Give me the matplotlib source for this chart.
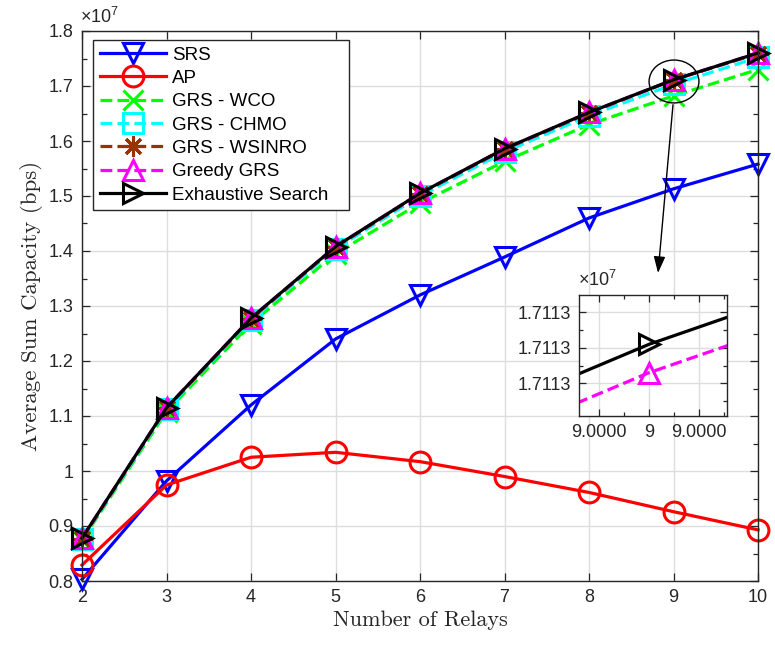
import matplotlib
matplotlib.use("Agg")
import matplotlib.pyplot as plt
from matplotlib.patches import Ellipse
from matplotlib.ticker import FixedLocator, FuncFormatter, MultipleLocator

# Sum capacity (units of 1e7 bps) versus number of relays
relays = [2, 3, 4, 5, 6, 7, 8, 9, 10]
srs = [0.803, 0.982, 1.120, 1.240, 1.320, 1.389, 1.460, 1.513, 1.558]
ap = [0.829, 0.9745, 1.025, 1.034, 1.017, 0.990, 0.961, 0.926, 0.893]
grs_wco = [0.874, 1.108, 1.268, 1.395, 1.487, 1.563, 1.630, 1.682, 1.730]
grs_chmo = [0.876, 1.112, 1.275, 1.404, 1.500, 1.580, 1.646, 1.703, 1.752]
grs_wsinro = [0.877, 1.114, 1.277, 1.407, 1.504, 1.585, 1.651, 1.7110, 1.759]
greedy_grs = [0.878, 1.115, 1.278, 1.408, 1.505, 1.586, 1.652, 1.7112993, 1.760]
exhaustive = [0.878, 1.115, 1.278, 1.408, 1.505, 1.586, 1.652, 1.7113001, 1.760]

labels = ["SRS", "AP", "GRS - WCO", "GRS - CHMO", "GRS - WSINRO",
          "Greedy GRS", "Exhaustive Search"]
colors = ["#0000ff", "#ff0000", "#00ff00", "#00ffff", "#993300",
          "#ff00ff", "#000000"]
markers = ["v", "o", "x", "s", (8, 2, 0), "^", ">"]
styles = ["-", "-", "--", "--", "--", "--", "-"]
series = [srs, ap, grs_wco, grs_chmo, grs_wsinro, greedy_grs, exhaustive]

plt.rcParams["font.family"] = ["Liberation Sans", "DejaVu Sans"]
plt.rcParams["mathtext.fontset"] = "custom"
plt.rcParams["mathtext.rm"] = "Liberation Sans"

W, H = 775, 649
fig = plt.figure(figsize=(W / 100, H / 100), dpi=100)
ax = fig.add_axes([82 / W, 68 / H, 676 / W, 550 / H])

LW = 2.3
MS = 15
MEW = 2.2
TICK_FS = 13
for ys, lab, c, m, ls in zip(series, labels, colors, markers, styles):
    ax.plot(relays, ys, linestyle=ls, color=c, lw=LW, marker=m,
            markersize=MS, markerfacecolor="none", markeredgecolor=c,
            markeredgewidth=MEW, label=lab, clip_on=False)

ax.set_xlim(2, 10)
ax.set_ylim(0.8, 1.8)
ax.xaxis.set_major_locator(MultipleLocator(1))
ax.yaxis.set_major_locator(MultipleLocator(0.1))
ax.yaxis.set_minor_locator(MultipleLocator(0.05))
ax.yaxis.set_major_formatter(FuncFormatter(lambda v, p: f"{v:g}"))
ax.tick_params(which="both", direction="in", top=True, right=True,
               labelsize=TICK_FS, colors="#262626", pad=6)
ax.tick_params(which="major", length=6, width=0.9)
ax.tick_params(which="minor", length=3.5, width=0.9)
ax.grid(True, which="major", color="#dddddd", lw=1.0)
ax.set_axisbelow(True)
for s in ax.spines.values():
    s.set_color("#262626")
    s.set_linewidth(1.0)

ax.set_xlabel("Number of Relays", family="cmr10", fontsize=16,
              color="#262626", labelpad=3)
ax.set_ylabel("Average Sum Capacity (bps)", family="cmr10", fontsize=16.5,
              color="#262626", labelpad=4)
fig.text(80 / W, 1 - 17 / H, r"$\times\mathregular{10^{7}}$",
         fontsize=TICK_FS, color="#262626", va="center", ha="left")

leg = ax.legend(loc="upper left",
                bbox_to_anchor=(11 / 676, 1 - 9 / 550, 256 / 676, 0.0),
                mode="expand", fontsize=13.5, handlelength=3.55,
                handletextpad=0.3, labelspacing=0.33, borderpad=0.35,
                borderaxespad=0, fancybox=False, framealpha=1,
                edgecolor="#262626")
leg.get_frame().set_linewidth(1.0)

# highlight of the zoomed point and pointer to the inset
ax.add_patch(Ellipse((9.006, 1.7082), 0.59, 0.078, fill=False,
                     edgecolor="k", lw=1.0, zorder=5))
ax.annotate("", xy=(8.817, 1.36), xytext=(8.994, 1.666),
            arrowprops=dict(arrowstyle="-|>,head_length=1.0,head_width=0.35",
                            color="k", lw=1.0, shrinkA=0, shrinkB=0),
            zorder=5)

# inset: close-up around 9 relays
axi = fig.add_axes([579 / W, 1 - 416 / H, 148 / W, 121 / H])
d = 1e-5
for ys, c, m, ls in [(greedy_grs, colors[5], markers[5], styles[5]),
                     (exhaustive, colors[6], markers[6], styles[6])]:
    axi.plot(relays, ys, linestyle=ls, color=c, lw=LW, marker=m,
             markersize=MS, markerfacecolor="none", markeredgecolor=c,
             markeredgewidth=MEW)
axi.set_xlim(9 - 1.4 * d, 9 + 1.56 * d)
axi.set_ylim(1.71129808, 1.71130149)
axi.xaxis.set_major_locator(FixedLocator([9 - d, 9, 9 + d]))
axi.xaxis.set_major_formatter(
    FuncFormatter(lambda v, p: "9" if abs(v - 9) < 1e-9 else f"{v:.4f}"))
axi.yaxis.set_major_locator(FixedLocator([1.711299, 1.711300, 1.711301]))
axi.yaxis.set_minor_locator(FixedLocator([1.7112985, 1.7112995,
                                          1.7113005, 1.7113015]))
axi.xaxis.set_minor_locator(FixedLocator([9 - 0.5 * d, 9 + 0.5 * d,
                                          9 - 1.5 * d, 9 + 1.5 * d]))
axi.yaxis.set_major_formatter(FuncFormatter(lambda v, p: f"{v:.4f}"))
axi.tick_params(which="both", direction="in", top=True, right=True,
                labelsize=TICK_FS, colors="#262626", pad=6)
axi.tick_params(which="major", length=5, width=0.9)
axi.tick_params(which="minor", length=3, width=0.9)
axi.grid(True, which="major", color="#dddddd", lw=1.0)
axi.set_axisbelow(True)
for s in axi.spines.values():
    s.set_color("#262626")
    s.set_linewidth(1.0)
fig.text(578 / W, 1 - 280 / H, r"$\times\mathregular{10^{7}}$",
         fontsize=TICK_FS, color="#262626", va="center", ha="left")

fig.savefig("out.png", dpi=100)
